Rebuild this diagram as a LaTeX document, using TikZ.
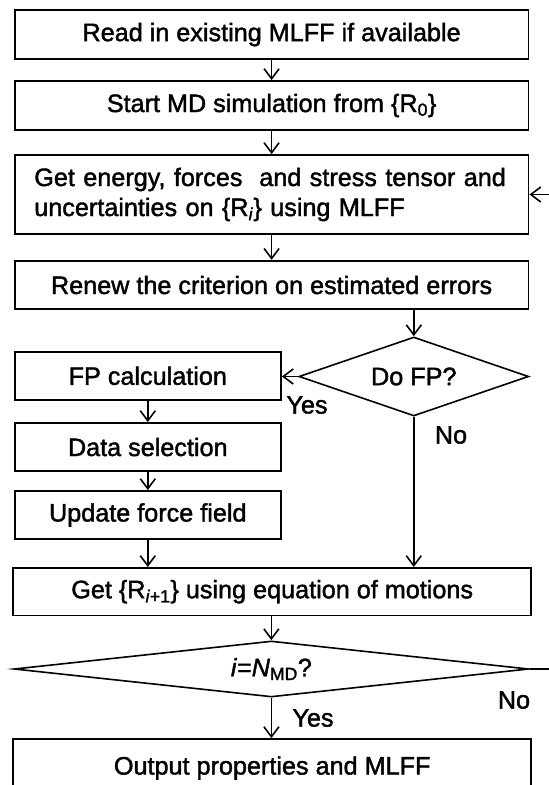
\documentclass[tikz,border=0pt]{standalone}
\usepackage{fontspec}
\setmainfont{Liberation Sans}[FakeBold=1.6]
\usetikzlibrary{arrows.meta,shapes.geometric}
\begin{document}
\begin{tikzpicture}[x=1pt,y=-1pt,
  font=\fontsize{25.2}{30}\selectfont,
  box/.style={draw, line width=1.9pt, inner sep=0pt, align=center},
  dia/.style={draw, diamond, line width=1.6pt, inner sep=0pt},
  arr/.style={line width=1.6pt, -{Straight Barb[length=10pt,width=15pt]}},
  lbl/.style={inner sep=0pt}]
\useasboundingbox (0,0) rectangle (549,785);
\clip (0,0) rectangle (549,785);
% boxes
\node[box, minimum width=513.8pt, minimum height=49.5pt] (b1) at (271.6,34.6) {Read in existing MLFF if available};
\node[box, minimum width=513.8pt, minimum height=49pt] (b2) at (271.6,105.5) {Start MD simulation from \{R\textsubscript{0}\}};
\node[box, minimum width=513.8pt, minimum height=79pt, text width=474.6pt, inner xsep=19.6pt, align=left] (b3) at (271.6,194.5) {Get energy, forces\ \ and stress tensor and\\uncertainties on \{R\textsubscript{\textit{i}}\} using MLFF};
\node[box, minimum width=513.8pt, minimum height=48.5pt] (b4) at (271.6,285) {Renew the criterion on estimated errors};
\node[dia, minimum width=229.7pt, minimum height=79pt, shape aspect=2.9] (d1) at (413.8,376.5) {Do FP?};
\node[box, minimum width=266.3pt, minimum height=48pt] (fp) at (147.8,375.8) {FP calculation};
\node[box, minimum width=266.3pt, minimum height=48pt] (ds) at (147.8,447) {Data selection};
\node[box, minimum width=266.3pt, minimum height=48pt] (uf) at (147.8,515) {Update force field};
\node[box, minimum width=517.7pt, minimum height=47.5pt] (b5) at (272.2,591.7) {Get \{R\textsubscript{\textit{i}+1}\} using equation of motions};
\node[dia, minimum width=514.7pt, minimum height=56pt, shape aspect=9.2] (d2) at (271.4,669) {\textit{i}=\textit{N}\textsubscript{MD}?};
\node[box, minimum width=517.7pt, minimum height=58pt] (b6) at (272.2,768) {Output properties and MLFF};
% labels
\node[lbl] (y1) at (307,405) {Yes};
\node[lbl] (n1) at (451,435) {No};
\node[lbl] (n2) at (514,700) {No};
\node[lbl] (y2) at (313,718) {Yes};
% connectors
\draw[arr] (b1.south) -- (b2.north);
\draw[arr] (b2.south) -- (b3.north);
\draw[arr] (b3.south) -- (b4.north);
\draw[arr] (b4.south -| d1.north) -- (d1.north);
\draw[arr] (d1.west) -- (fp.east |- d1.west);
\draw[arr] (fp.south) -- (ds.north);
\draw[arr] (ds.south) -- (uf.north);
\draw[arr] (uf.south) -- (uf.south |- b5.north);
\draw[arr] (d1.south) -- (d1.south |- b5.north);
\draw[arr] (d2.north |- b5.south) -- (d2.north);
\draw[arr] (d2.south) -- (d2.south |- b6.north);
\draw[arr] (d2.east) -- ++(35,0) |- (b3.east);
\end{tikzpicture}
\end{document}
